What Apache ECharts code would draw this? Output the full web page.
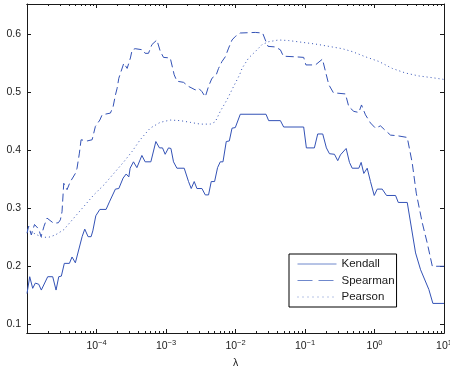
<!DOCTYPE html>
<html>
<head>
<meta charset="utf-8">
<script src="https://cdn.jsdelivr.net/npm/echarts@6/dist/echarts.min.js"></script>
<style>html,body{margin:0;padding:0;background:#fff}#c{width:450px;height:366px}</style>
</head>
<body>
<div id="c"></div>
<script>
// x positions are log10(lambda)
var kendallX = [-5.000,-4.961,-4.918,-4.880,-4.831,-4.794,-4.702,-4.630,-4.582,-4.543,-4.506,-4.463,-4.390,-4.352,-4.304,-4.207,-4.169,-4.121,-4.078,-4.053,-4.010,-3.952,-3.862,-3.814,-3.728,-3.679,-3.617,-3.573,-3.535,-3.516,-3.468,-3.419,-3.347,-3.300,-3.218,-3.146,-3.094,-3.050,-3.012,-2.964,-2.929,-2.892,-2.843,-2.738,-2.676,-2.637,-2.594,-2.555,-2.483,-2.435,-2.388,-2.349,-2.301,-2.258,-2.219,-2.180,-2.133,-2.089,-2.050,-2.003,-1.931,-1.561,-1.523,-1.354,-1.307,-1.019,-0.980,-0.865,-0.817,-0.745,-0.692,-0.648,-0.576,-0.529,-0.490,-0.408,-0.360,-0.321,-0.226,-0.192,-0.154,-0.105,-0.058,-0.004,0.039,0.111,0.173,0.303,0.342,0.471,0.591,0.663,0.782,0.840,1.000];
var kendallY = [0.153,0.182,0.162,0.171,0.169,0.159,0.182,0.182,0.159,0.182,0.183,0.205,0.205,0.216,0.206,0.251,0.264,0.251,0.251,0.261,0.287,0.298,0.298,0.311,0.333,0.334,0.352,0.359,0.354,0.369,0.380,0.370,0.391,0.380,0.380,0.415,0.404,0.404,0.393,0.404,0.403,0.380,0.369,0.369,0.346,0.334,0.346,0.334,0.334,0.323,0.323,0.346,0.346,0.370,0.380,0.380,0.415,0.416,0.438,0.439,0.462,0.462,0.451,0.451,0.440,0.440,0.404,0.404,0.428,0.428,0.404,0.394,0.393,0.382,0.392,0.403,0.379,0.369,0.369,0.379,0.360,0.369,0.346,0.322,0.333,0.333,0.322,0.322,0.310,0.310,0.223,0.194,0.160,0.136,0.136];

var spearmanX = [-5.000,-4.976,-4.938,-4.892,-4.831,-4.798,-4.755,-4.712,-4.615,-4.549,-4.520,-4.496,-4.471,-4.424,-4.380,-4.304,-4.280,-4.246,-4.222,-4.135,-4.063,-4.016,-3.952,-3.919,-3.800,-3.761,-3.728,-3.703,-3.679,-3.646,-3.607,-3.559,-3.512,-3.487,-3.444,-3.333,-3.300,-3.252,-3.203,-3.131,-3.084,-3.036,-2.939,-2.882,-2.843,-2.748,-2.676,-2.627,-2.579,-2.532,-2.483,-2.435,-2.388,-2.339,-2.277,-2.244,-2.194,-2.147,-2.099,-2.050,-2.003,-1.931,-1.715,-1.610,-1.571,-1.532,-1.427,-1.354,-1.311,-1.138,-1.019,-0.987,-0.850,-0.749,-0.706,-0.658,-0.591,-0.418,-0.370,-0.298,-0.226,-0.187,-0.130,-0.058,0.014,0.086,0.148,0.231,0.327,0.471,0.543,0.601,0.687,0.759,0.832,1.000];
var spearmanY = [0.257,0.269,0.254,0.272,0.264,0.251,0.269,0.283,0.274,0.275,0.280,0.294,0.343,0.332,0.345,0.360,0.369,0.395,0.418,0.416,0.418,0.441,0.452,0.461,0.464,0.475,0.495,0.507,0.524,0.536,0.550,0.541,0.559,0.573,0.575,0.573,0.567,0.567,0.582,0.590,0.571,0.560,0.559,0.530,0.519,0.517,0.510,0.507,0.504,0.507,0.501,0.492,0.510,0.524,0.530,0.541,0.553,0.561,0.576,0.590,0.596,0.602,0.603,0.602,0.590,0.579,0.578,0.573,0.562,0.561,0.560,0.547,0.547,0.557,0.536,0.513,0.499,0.497,0.475,0.467,0.465,0.478,0.461,0.447,0.438,0.442,0.435,0.426,0.425,0.422,0.378,0.326,0.275,0.240,0.200,0.200];

var pearsonX = [-5.000,-4.903,-4.784,-4.687,-4.592,-4.471,-4.327,-4.183,-4.039,-3.895,-3.751,-3.607,-3.487,-3.372,-3.228,-3.084,-2.939,-2.795,-2.651,-2.507,-2.363,-2.291,-2.219,-2.122,-2.027,-1.941,-1.906,-1.811,-1.715,-1.618,-1.523,-1.379,-1.235,-1.042,-0.850,-0.658,-0.465,-0.321,-0.130,0.062,0.255,0.447,0.638,0.832,1.000];
var pearsonY = [0.264,0.257,0.250,0.250,0.254,0.263,0.283,0.303,0.323,0.340,0.360,0.380,0.398,0.418,0.438,0.448,0.452,0.451,0.448,0.445,0.445,0.449,0.467,0.487,0.510,0.530,0.541,0.559,0.570,0.582,0.587,0.590,0.589,0.586,0.583,0.579,0.575,0.570,0.561,0.553,0.541,0.533,0.528,0.525,0.522];

var seriesNames = ['Kendall', 'Spearman', 'Pearson'];
var yTicks = [0.1, 0.2, 0.3, 0.4, 0.5, 0.6];
var xLabelExps = [-4, -3, -2, -1, 0, 1];
var xName = 'λ';

var FONT = '"Liberation Sans", Arial, Helvetica, sans-serif';
var COLOR = '#3352b6';
var LEGEND_LINE = '#6f88cc';
var AX = '#1a1a1a';

function pairs(xs, ys) {
  return xs.map(function (e, i) { return [Math.pow(10, e), ys[i]]; });
}
var majorX = xLabelExps.map(function (e) { return Math.pow(10, e); });
var minorX = [];
for (var d = -5; d < 1; d++) {
  for (var m = 2; m <= 9; m++) minorX.push(m * Math.pow(10, d));
}
var XMIN = 1e-5, XMAX = 10, YMIN = 0.085, YMAX = 0.652;

function xAxisDef(pos, major, show) {
  return {
    type: 'log', logBase: 10, position: pos, min: XMIN, max: XMAX,
    axisLine: { show: true, onZero: false, lineStyle: { color: AX, width: 1 } },
    axisTick: { show: true, inside: true, length: major ? 4 : 2, lineStyle: { color: AX },
      customValues: major ? majorX : minorX },
    axisLabel: show ? {
      show: true, margin: 6, fontFamily: FONT, fontSize: 10, color: '#222',
      customValues: majorX,
      formatter: function (v) {
        var e = Math.round(Math.log10(v));
        return '{b|10}{s|' + (e < 0 ? '\u2212' + (-e) : e) + '}';
      },
      rich: {
        b: { fontFamily: FONT, fontSize: 10.5, color: '#222', verticalAlign: 'bottom', lineHeight: 12 },
        s: { fontFamily: FONT, fontSize: 7.5, color: '#222', verticalAlign: 'bottom', padding: [0, 0, 5, 0] }
      }
    } : { show: false },
    splitLine: { show: false }, minorTick: { show: false }
  };
}
function yAxisDef(pos, show) {
  return {
    type: 'value', position: pos, min: YMIN, max: YMAX,
    axisLine: { show: true, onZero: false, lineStyle: { color: AX, width: 1 } },
    axisTick: { show: true, inside: true, length: 4, lineStyle: { color: AX }, customValues: yTicks },
    axisLabel: show ? { show: true, margin: 6, fontFamily: FONT, fontSize: 10.5, color: '#222', customValues: yTicks,
      formatter: function (v) { return v.toFixed(1); } } : { show: false },
    splitLine: { show: false }
  };
}

var xa0 = xAxisDef('bottom', true, true);
xa0.name = xName;
xa0.nameLocation = 'middle';
xa0.nameGap = 25;
xa0.nameTextStyle = { fontFamily: FONT, fontSize: 10.5, color: '#222' };

var legendStyles = [
  { type: 'solid' },
  { type: [15, 6] },
  { type: [1, 4] }
];

var option = {
  animation: false,
  backgroundColor: '#fff',
  grid: { left: 27, right: 6, top: 4, bottom: 33, containLabel: false, outerBoundsMode: 'none' },
  xAxis: [xa0, xAxisDef('bottom', false, false), xAxisDef('top', true, false), xAxisDef('top', false, false)],
  yAxis: [yAxisDef('left', true), yAxisDef('right', false)],
  legend: {
    show: true, orient: 'vertical', left: 289, top: 254,
    data: seriesNames.map(function (n, i) {
      return { name: n, lineStyle: { type: legendStyles[i].type, color: LEGEND_LINE, width: 1 } };
    }),
    itemWidth: 39, itemHeight: 11, itemGap: 4.5, padding: [4, 2, 4, 8],
    backgroundColor: '#fff', borderColor: '#000', borderWidth: 1, borderRadius: 0,
    itemStyle: { color: 'rgba(0,0,0,0)', borderWidth: 0, opacity: 0 },
    textStyle: { fontFamily: FONT, fontSize: 11.5, color: '#1a1a1a' },
    selectedMode: false
  },
  series: [
    { name: seriesNames[0], type: 'line', xAxisIndex: 0, yAxisIndex: 0, data: pairs(kendallX, kendallY),
      showSymbol: false, symbol: 'none', lineStyle: { color: COLOR, width: 1, type: 'solid' }, itemStyle: { color: COLOR } },
    { name: seriesNames[1], type: 'line', xAxisIndex: 0, yAxisIndex: 0, data: pairs(spearmanX, spearmanY),
      showSymbol: false, symbol: 'none', lineStyle: { color: COLOR, width: 1, type: [8, 4] }, itemStyle: { color: COLOR } },
    { name: seriesNames[2], type: 'line', xAxisIndex: 0, yAxisIndex: 0, data: pairs(pearsonX, pearsonY),
      showSymbol: false, symbol: 'none', lineStyle: { color: COLOR, width: 1, type: [1, 3] }, itemStyle: { color: COLOR } }
  ]
};
var chart = echarts.init(document.getElementById('c'), null, { renderer: 'canvas' });
chart.setOption(option);
</script>
</body>
</html>
